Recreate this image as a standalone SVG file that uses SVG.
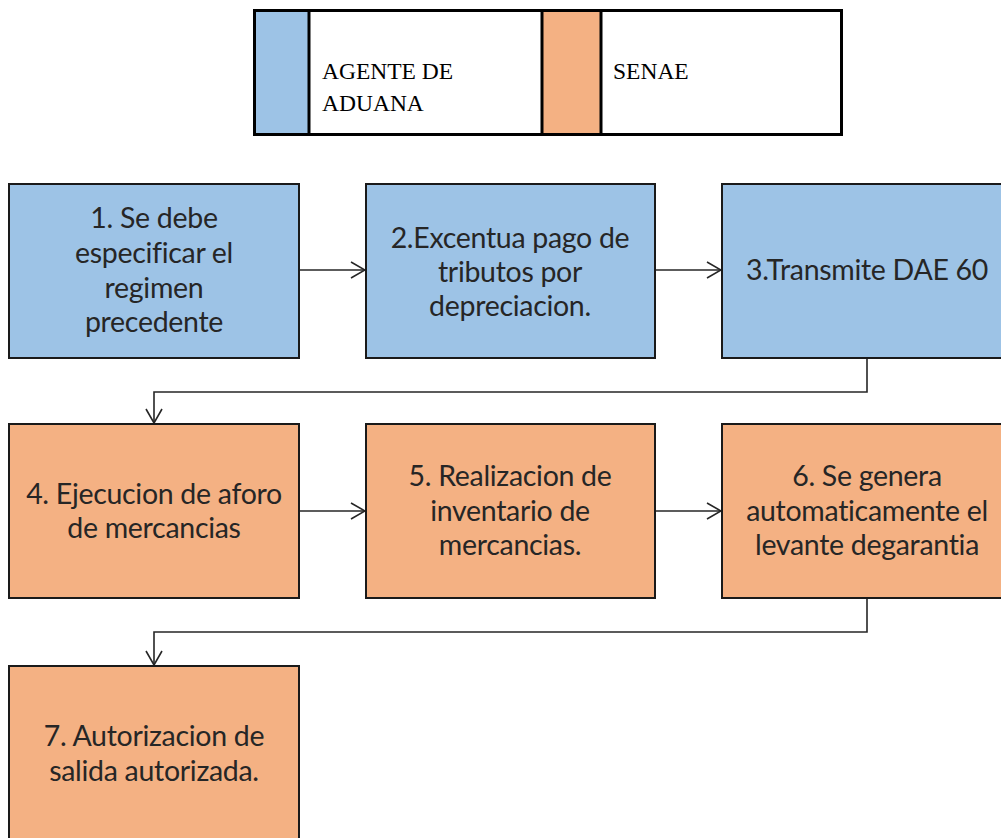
<svg xmlns="http://www.w3.org/2000/svg" width="1001" height="838" viewBox="0 0 1001 838">
<style>
.blue{fill:#9DC3E6;stroke:#1a1a1a;stroke-width:2}
.orange{fill:#F4B183;stroke:#1a1a1a;stroke-width:2}
.t{font-family:Lato,"Open Sans","Liberation Sans",sans-serif;font-size:28.5px;fill:#262626;text-anchor:middle;font-variant-ligatures:none;letter-spacing:-0.3px}
.lg{font-family:"Liberation Serif",serif;font-size:23.5px;fill:#000}
.c{fill:none;stroke:#262626;stroke-width:1.6}
</style>
<defs>
<marker id="ah" viewBox="0 0 16 18" refX="15" refY="9" markerWidth="16" markerHeight="18" markerUnits="userSpaceOnUse" orient="auto">
<path d="M1,1 L15,9 L1,17" fill="none" stroke="#262626" stroke-width="1.6"/>
</marker>
</defs>
<g id="legend">
<rect x="254.5" y="10.5" width="587" height="124" fill="#fff" stroke="#000" stroke-width="3"/>
<rect x="256" y="12" width="52" height="121" fill="#9DC3E6"/>
<rect x="543" y="12" width="57" height="121" fill="#F4B183"/>
<line x1="309" y1="10" x2="309" y2="135" stroke="#000" stroke-width="3"/>
<line x1="542" y1="10" x2="542" y2="135" stroke="#000" stroke-width="3"/>
<line x1="601" y1="10" x2="601" y2="135" stroke="#000" stroke-width="3"/>
<text class="lg" x="322" y="79">AGENTE DE</text>
<text class="lg" x="322" y="111">ADUANA</text>
<text class="lg" x="613" y="79">SENAE</text>
</g>
<g id="connectors">
<line class="c" x1="299" y1="270" x2="365" y2="270" marker-end="url(#ah)"/>
<line class="c" x1="655" y1="270" x2="721" y2="270" marker-end="url(#ah)"/>
<polyline class="c" points="867,358 867,392 154,392 154,423" marker-end="url(#ah)"/>
<line class="c" x1="299" y1="511" x2="365" y2="511" marker-end="url(#ah)"/>
<line class="c" x1="655" y1="511" x2="721" y2="511" marker-end="url(#ah)"/>
<polyline class="c" points="867,598 867,632 154,632 154,665" marker-end="url(#ah)"/>
</g>
<g id="n1">
<rect class="blue" x="9" y="184" width="290" height="174"/>
<text class="t" x="154" y="228">1. Se debe</text>
<text class="t" x="154" y="263">especificar el</text>
<text class="t" x="154" y="298">regimen</text>
<text class="t" x="154" y="332">precedente</text>
</g>
<g id="n2">
<rect class="blue" x="366" y="184" width="289" height="174"/>
<text class="t" x="510" y="248">2.Excentua pago de</text>
<text class="t" x="510" y="282">tributos por</text>
<text class="t" x="510" y="316">depreciacion.</text>
</g>
<g id="n3">
<rect class="blue" x="722" y="184" width="290" height="174"/>
<text class="t" x="867" y="280">3.Transmite DAE 60</text>
</g>
<g id="n4">
<rect class="orange" x="9" y="424" width="290" height="174"/>
<text class="t" x="154" y="504">4. Ejecucion de aforo</text>
<text class="t" x="154" y="538">de mercancias</text>
</g>
<g id="n5">
<rect class="orange" x="366" y="424" width="289" height="174"/>
<text class="t" x="510" y="486">5. Realizacion de</text>
<text class="t" x="510" y="521">inventario de</text>
<text class="t" x="510" y="555">mercancias.</text>
</g>
<g id="n6">
<rect class="orange" x="722" y="424" width="290" height="174"/>
<text class="t" x="867" y="486">6. Se genera</text>
<text class="t" x="867" y="521">automaticamente el</text>
<text class="t" x="867" y="555">levante degarantia</text>
</g>
<g id="n7">
<rect class="orange" x="9" y="666" width="290" height="180"/>
<text class="t" x="154" y="746">7. Autorizacion de</text>
<text class="t" x="154" y="781">salida autorizada.</text>
</g>
</svg>
